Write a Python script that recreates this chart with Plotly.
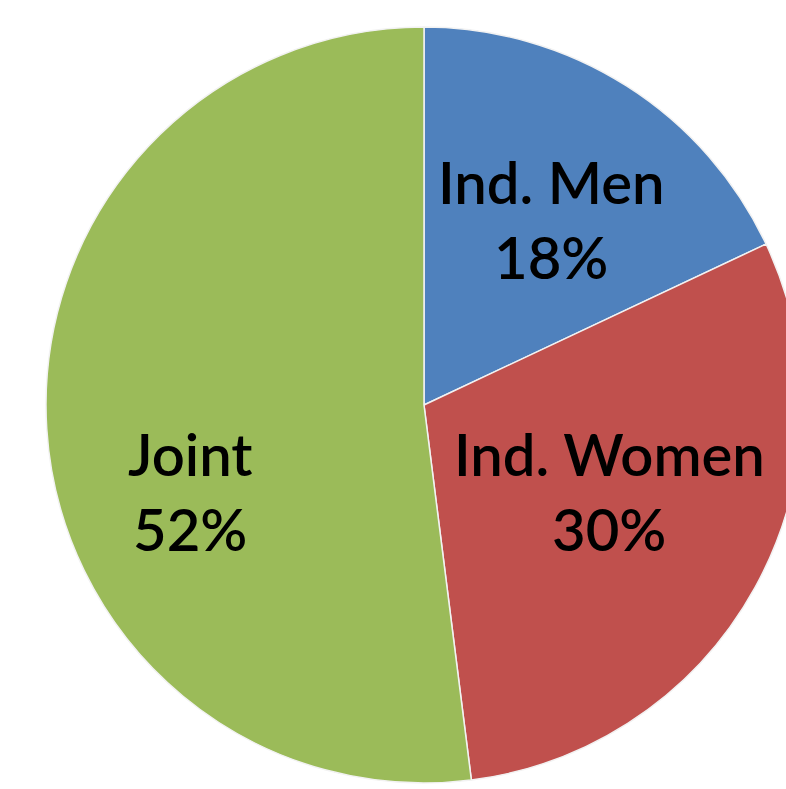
import plotly.graph_objects as go

labels = ["Ind. Men", "Ind. Women", "Joint"]
values = [18, 30, 52]
colors = ["#4F81BD", "#C0504D", "#9BBB59"]
label_x = [551, 609, 190]
name_y = [181, 453, 453]
pct_y = [256, 528, 528]

fig = go.Figure(go.Pie(
    labels=labels,
    values=values,
    sort=False,
    direction="clockwise",
    rotation=0,
    marker=dict(colors=colors, line=dict(color="#F2F2F2", width=1.5)),
    textinfo="none",
    hoverinfo="label+percent",
    showlegend=False,
))

W, H = 848, 789
T, B = 27, 6


def py(p):
    return 1 - (p - T) / (H - T - B)


FONT = dict(family="Lato", size=58, color="#000000", weight=600)
for lab, v, x, y1, y2 in zip(labels, values, label_x, name_y, pct_y):
    fig.add_annotation(
        x=x / W, y=py(y1), xref="paper", yref="paper",
        text=lab, showarrow=False, font=FONT,
        xanchor="center", yanchor="middle", align="center",
    )
    fig.add_annotation(
        x=x / W, y=py(y2), xref="paper", yref="paper",
        text=f"{v}%", showarrow=False, font=FONT,
        xanchor="center", yanchor="middle", align="center",
    )

fig.update_layout(
    width=W, height=H, autosize=False,
    margin=dict(l=0, r=0, t=T, b=B),
    paper_bgcolor="white", plot_bgcolor="white",
)

fig.write_html("out.html", post_script="document.body.style.margin='0';document.body.style.overflow='hidden';document.documentElement.style.overflow='hidden';")
